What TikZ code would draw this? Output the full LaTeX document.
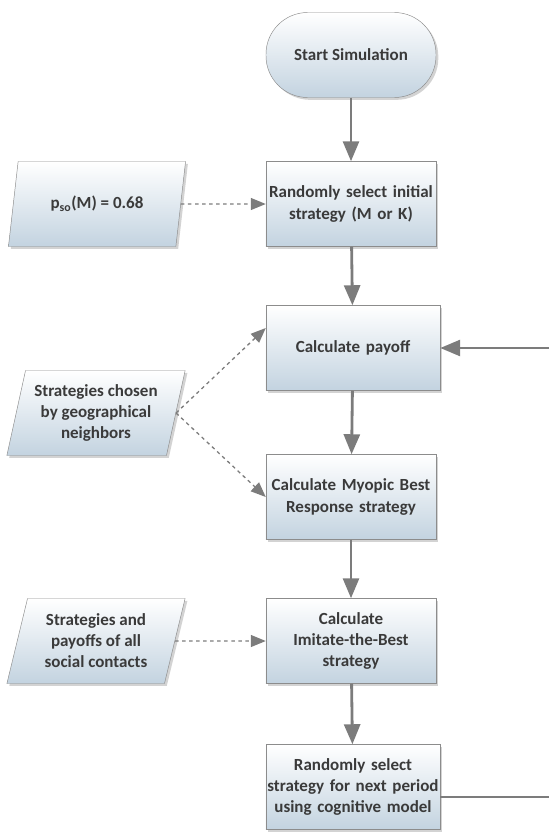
\documentclass[tikz,border=0pt]{standalone}
\usepackage{fontspec}
\setmainfont{Carlito}
\usetikzlibrary{arrows.meta,positioning,shapes.geometric,shadows}

\definecolor{boxline}{HTML}{8C8C8C}
\definecolor{boxbottom}{HTML}{C3D3E0}
\definecolor{boxtext}{HTML}{3A3A3A}
\definecolor{linegray}{HTML}{7C7C7C}

\begin{document}
\begin{tikzpicture}[
        x=0.03cm, y=-0.03cm,
        font=\fontsize{14.5}{18}\selectfont\bfseries,
        shaded/.style={
            draw=boxline, top color=white, bottom color=boxbottom,
            text=boxtext, align=center,
            drop shadow={opacity=0.35, shadow xshift=0.07cm, shadow yshift=-0.07cm}
        },
        box/.style={
            shaded, text width=5.1cm, inner xsep=0pt,
            minimum width=5.1cm, minimum height=2.55cm
        },
        oval/.style={
            shaded, rounded corners=1.25cm,
            minimum width=5.1cm, minimum height=2.55cm
        },
        io/.style={
            shaded, trapezium, trapezium stretches=true,
            trapezium left angle=75, trapezium right angle=105,
            minimum width=5.35cm, minimum height=2.55cm
        },
        arrow/.style={-{Triangle[length=0.6cm, width=0.48cm]}, linegray, line width=2.4pt},
        dasharrow/.style={-{Triangle[length=0.45cm, width=0.36cm]}, linegray, line width=1.1pt, dashed}
        ]

        \useasboundingbox (0,0) rectangle (549,834);

        % --- Main column ---
        \node[oval] (start) at (351,55) {Start Simulation};
        \node[box] (init) at (351,204) {Randomly select initial\\strategy (M or K)};
        \node[box, text width=5.22cm] (payoff) at (353,348) {Calculate payoff};
        \node[box] (myopic) at (351,497) {Calculate Myopic Best\\Response strategy};
        \node[box] (imitate) at (351,641) {Calculate\\Imitate-the-Best\\strategy};
        \node[box, text width=5.22cm] (nextper) at (353,787) {Randomly select\\strategy for next period\\using cognitive model};

        % --- Inputs on the left ---
        \node[io] (pso) at (97,204) {p\textsubscript{so}(M) = 0.68};
        \node[io] (geo) at (96,413) {Strategies chosen\\by geographical\\neighbors};
        \node[io] (social) at (96,641) {Strategies and\\payoffs of all\\social contacts};

        % --- Loop ends (cut at the right edge) ---
        \coordinate (loopin) at (549,348);
        \coordinate (loopout) at (549,797);

        % --- Arrows ---
        \draw[arrow] (start) -- (init);
        \draw[arrow] (init) -- (payoff);
        \draw[arrow] (payoff) -- (myopic);
        \draw[arrow] (myopic) -- (imitate);
        \draw[arrow] (imitate) -- (nextper);
        \draw[arrow] (loopin) -- (payoff.east);
        \draw[linegray, line width=1.4pt] (nextper.east |- loopout) -- (loopout);

        \draw[dasharrow] (pso.east) -- (init.west);
        \draw[dasharrow] (geo.east) -- ([yshift=0.6cm]payoff.west);
        \draw[dasharrow] (geo.east) -- (myopic.west);
        \draw[dasharrow] (social.east) -- (imitate.west);

    \end{tikzpicture}
\end{document}
